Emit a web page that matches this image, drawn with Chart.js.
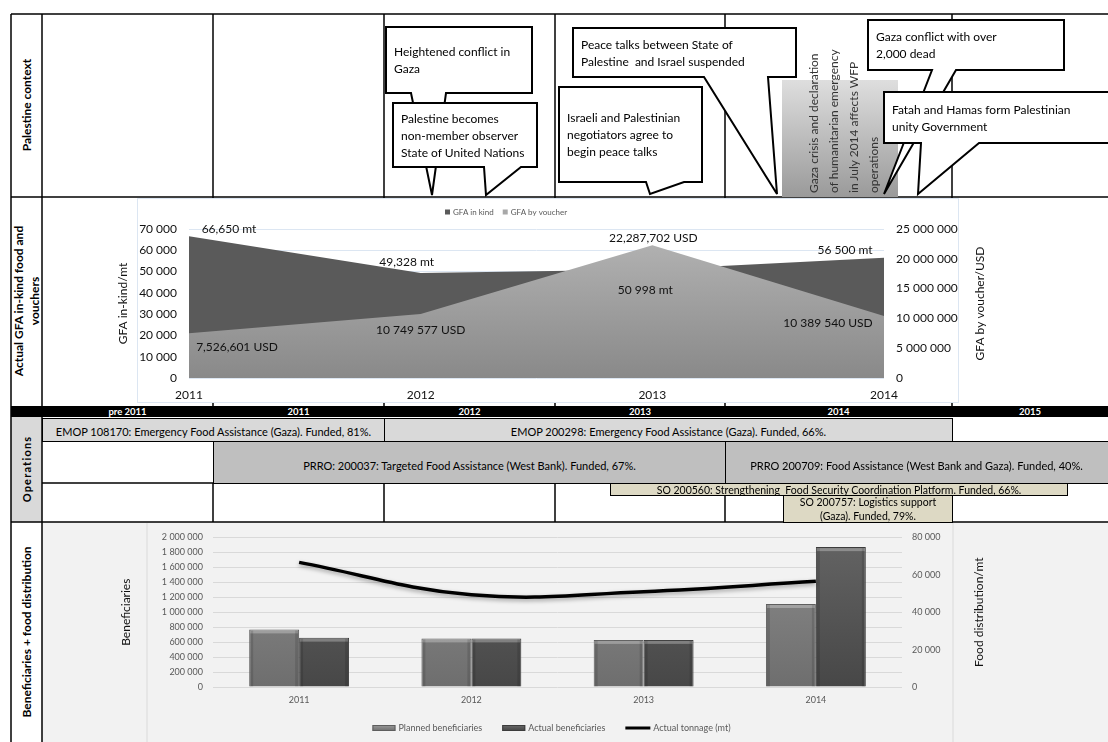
<!DOCTYPE html>
<html>
<head>
<meta charset="utf-8">
<title>WFP Palestine 2011-2014</title>
<script src="https://cdn.jsdelivr.net/npm/chart.js@4.4.1/dist/chart.umd.min.js"></script>
<style>
  body { margin: 0; background: #fff; font-family: Lato, "Noto Sans", sans-serif; }
  #page { position: relative; width: 1108px; height: 742px; overflow: hidden; }
  #page > * { position: absolute; }
  .op { box-sizing: border-box; border: 1px solid #000; font-size: 11px; line-height: 12px; display: flex; justify-content: center; text-align: center; white-space: pre; color: #000; }
  .hdr { top: 406px; height: 11px; color: #fff; font-weight: bold; font-size: 9.5px; line-height: 11px; text-align: center; }
  .side { font-weight: bold; font-size: 12px; line-height: 16px; white-space: nowrap; text-align: center; transform: translate(-50%, -50%) rotate(-90deg); }
  #notes text { font-size: 12px; white-space: pre; }
</style>
</head>
<body>
<div id="page">
  <svg id="grid" width="1108" height="742" style="left:0;top:0">
    <rect x="42" y="522" width="1066" height="220" fill="#f2f2f2"/>
    <rect x="11" y="417" width="31" height="105" fill="#d9d9d9"/>
    <line x1="147" y1="523" x2="147" y2="742" stroke="#dadada" stroke-width="1"/>
    <line x1="953" y1="523" x2="953" y2="742" stroke="#dadada" stroke-width="1"/>
    <g id="rules" stroke="#000" stroke-width="1.5"></g>
    <rect x="11" y="406" width="1097" height="11" fill="#000"/>
  </svg>

  <div style="left:137px;top:198px;width:822px;height:205px;background:#fff;border:1.5px solid #dce6f2;box-sizing:border-box"></div>
  <canvas id="gfaChart" width="910" height="207" style="left:100px;top:197px"></canvas>
  <canvas id="beneChart" width="902" height="220" style="left:100px;top:522px"></canvas>

  <div class="hdr" style="left:42px;width:171px">pre 2011</div>
  <div class="hdr" style="left:213px;width:171px">2011</div>
  <div class="hdr" style="left:384px;width:171px">2012</div>
  <div class="hdr" style="left:555px;width:170px">2013</div>
  <div class="hdr" style="left:725px;width:227px">2014</div>
  <div class="hdr" style="left:952px;width:156px">2015</div>

  <div class="op" style="left:42px;top:418px;width:343px;height:24px;background:#d9d9d9;align-items:flex-end;padding-bottom:3px">EMOP 108170: Emergency Food Assistance (Gaza). Funded, 81%.</div>
  <div class="op" style="left:384px;top:418px;width:569px;height:24px;background:#d9d9d9;align-items:flex-end;padding-bottom:3px">EMOP 200298: Emergency Food Assistance (Gaza). Funded, 66%.</div>
  <div class="op" style="left:213px;top:441px;width:513px;height:43px;background:#bfbfbf;align-items:center;padding-top:6px">PRRO: 200037: Targeted Food Assistance (West Bank). Funded, 67%.</div>
  <div class="op" style="left:725px;top:441px;width:390px;height:43px;background:#bfbfbf;align-items:center;padding-top:6px;padding-right:7px">PRRO 200709: Food Assistance (West Bank and Gaza). Funded, 40%.</div>
  <div class="op" style="left:610px;top:483px;width:458px;height:13px;background:#ddd9c4;align-items:center;font-size:10.5px">SO 200560: Strengthening  Food Security Coordination Platform. Funded, 66%.</div>
  <div class="op" style="left:783px;top:495px;width:170px;height:28px;background:#ddd9c4;align-items:center;font-size:10.5px;line-height:14px">SO 200757: Logistics support
(Gaza). Funded, 79%.</div>

  <div class="side" style="left:27px;top:105px">Palestine context</div>
  <div class="side" style="left:27px;top:301px">Actual GFA in-kind food and<br>vouchers</div>
  <div class="side" style="left:27px;top:469px;font-size:11px;letter-spacing:1.2px">Operations</div>
  <div class="side" style="left:27px;top:632px">Beneficiaries + food distribution</div>

  <svg id="notes" width="1108" height="200" style="left:0;top:0"></svg>
</div>

<script>
// ---- data ----
const years = ['2011', '2012', '2013', '2014'];
const gfaInKind = [66650, 49328, 50998, 56500];               // mt
const gfaVoucher = [7526601, 10749577, 22287702, 10389540];   // USD
const gfaInKindText = ['66,650 mt', '49,328 mt', '50 998 mt', '56 500 mt'];
const gfaVoucherText = ['7,526,601 USD', '10 749 577 USD', '22,287,702 USD', '10 389 540 USD'];
const plannedBeneficiaries = [770000, 650000, 630000, 1110000];
const actualBeneficiaries = [660000, 650000, 630000, 1870000];
const actualTonnage = [66650, 49328, 50998, 56500];           // mt

// ---- table rules ----
const rules = [
  [11, 14, 1108, 14], [11, 197, 1108, 197], [42, 483, 1108, 483], [11, 522, 1108, 522],
  [11, 14, 11, 742], [42, 14, 42, 742]
];
[213, 384, 555, 725, 952].forEach(x => {
  rules.push([x, 14, x, 406]);
  rules.push([x, 483, x, 522]);
});
document.getElementById('rules').innerHTML = rules
  .map(r => `<line x1="${r[0]}" y1="${r[1]}" x2="${r[2]}" y2="${r[3]}"/>`).join('');

// ---- context callouts ----
function bubble(box, tail, lines) {
  const [x1, y1, x2, y2] = box;
  const [b1, b2, tx, ty] = tail;
  const cy = (y1 + y2) / 2;
  let s = `<path d="M${x1} ${y1}H${x2}V${y2}H${b2}L${tx} ${ty}L${b1} ${y2}H${x1}Z" fill="#fff" stroke="#000" stroke-width="2" stroke-linejoin="miter"/>`;
  lines.forEach((t, i) => {
    s += `<text x="${x1 + 8}" y="${cy + (i - (lines.length - 1) / 2) * 17}" dominant-baseline="central">${t}</text>`;
  });
  return s;
}

let notes = '<defs><linearGradient id="crisis" x1="0" y1="0" x2="0" y2="1">' +
  '<stop offset="0" stop-color="#dedede"/><stop offset="1" stop-color="#9a9a9a"/></linearGradient></defs>';
notes += bubble([386, 27, 532, 93], [411, 446, 432, 195], ['Heightened conflict in', 'Gaza']);
notes += bubble([393, 103, 537, 167], [484, 521, 486, 195], ['Palestine becomes', 'non-member observer', 'State of United Nations']);
notes += bubble([559, 87, 702, 182], [646, 684, 650, 194], ['Israeli and Palestinian', 'negotiators agree to', 'begin peace talks']);
notes += bubble([573, 28, 796, 77], [704, 768, 777, 194], ['Peace talks between State of', 'Palestine  and Israel suspended']);
notes += '<rect x="782" y="80" width="116" height="117" fill="url(#crisis)"/>';
['Gaza crisis and declaration', 'of humanitarian emergency', 'in July 2014 affects WFP', 'operations']
  .forEach((t, i) => {
    notes += `<text transform="translate(${813 + i * 20},193) rotate(-90)" dominant-baseline="central" fill="#333">${t}</text>`;
  });
notes += bubble([868, 20, 1064, 70], [932, 956, 884, 194], ['Gaza conflict with over', '2,000 dead']);
notes += bubble([884, 92, 1116, 143], [921, 979, 918, 194], ['Fatah and Hamas form Palestinian', 'unity Government']);
document.getElementById('notes').innerHTML = notes;

// ---- charts ----
Chart.defaults.font.family = 'Lato, "Noto Sans", sans-serif';
const spaced = v => String(v).replace(/\B(?=(\d{3})+(?!\d))/g, ' ');

function verticalFill(top, bottom) {
  return (ctx) => {
    const area = ctx.chart.chartArea;
    if (!area) return bottom;
    const g = ctx.chart.ctx.createLinearGradient(0, area.top, 0, area.bottom);
    g.addColorStop(0, top);
    g.addColorStop(1, bottom);
    return g;
  };
}

// value labels next to the area points
const areaLabels = {
  id: 'areaLabels',
  afterDatasetsDraw(chart, args, opts) {
    const ctx = chart.ctx;
    ctx.save();
    ctx.font = '12px Lato, "Noto Sans", sans-serif';
    ctx.fillStyle = '#111';
    ctx.textAlign = 'center';
    ctx.textBaseline = 'middle';
    opts.sets.forEach(set => {
      const meta = chart.getDatasetMeta(set.index);
      meta.data.forEach((pt, j) => {
        ctx.fillText(set.text[j], pt.x + set.offsets[j][0], pt.y + set.offsets[j][1]);
      });
    });
    ctx.restore();
  }
};

// right-hand axis titles read bottom-to-top, like the left ones
const sideTitle = {
  id: 'sideTitle',
  afterDraw(chart, args, opts) {
    const scale = chart.scales[opts.scale];
    const ctx = chart.ctx;
    ctx.save();
    ctx.translate(scale.right - opts.inset, (scale.top + scale.bottom) / 2);
    ctx.rotate(-Math.PI / 2);
    ctx.font = '12px Lato, "Noto Sans", sans-serif';
    ctx.fillStyle = '#111';
    ctx.textAlign = 'center';
    ctx.textBaseline = 'middle';
    ctx.fillText(opts.text, 0, 0);
    ctx.restore();
  }
};

// small legends
const boxLegend = {
  id: 'boxLegend',
  afterDraw(chart, args, opts) {
    const ctx = chart.ctx;
    const area = chart.chartArea;
    ctx.save();
    ctx.font = opts.font;
    ctx.textBaseline = 'middle';
    let total = 0;
    opts.items.forEach(it => { total += it.w + 3 + ctx.measureText(chart.data.datasets[it.index].label).width; });
    total += opts.gap * (opts.items.length - 1);
    let x = opts.x != null ? area.left + opts.x : (area.left + area.right) / 2 - total / 2 + (opts.shift || 0);
    const y = opts.y;
    opts.items.forEach(it => {
      if (it.line) {
        ctx.fillStyle = it.color;
        ctx.fillRect(x, y - 1.5, it.w, 3);
      } else {
        const g = ctx.createLinearGradient(0, y - it.h / 2, 0, y + it.h / 2);
        g.addColorStop(0, it.color);
        g.addColorStop(1, it.color2 || it.color);
        ctx.fillStyle = g;
        ctx.fillRect(x, y - it.h / 2, it.w, it.h);
        if (it.border) {
          ctx.strokeStyle = it.border;
          ctx.lineWidth = 1;
          ctx.strokeRect(x + 0.5, y - it.h / 2 + 0.5, it.w - 1, it.h - 1);
        }
      }
      x += it.w + 3;
      const label = chart.data.datasets[it.index].label;
      ctx.fillStyle = opts.color;
      ctx.fillText(label, x, y);
      x += ctx.measureText(label).width + opts.gap;
    });
    ctx.restore();
  }
};

new Chart(document.getElementById('gfaChart'), {
  type: 'line',
  data: {
    labels: years,
    datasets: [
      {
        label: 'GFA in kind', data: gfaInKind, yAxisID: 'y', order: 2,
        fill: 'origin', backgroundColor: '#5a5a5a', borderColor: 'rgba(0,0,0,0)', borderWidth: 0,
        pointRadius: 0, tension: 0
      },
      {
        label: 'GFA by voucher', data: gfaVoucher, yAxisID: 'y1', order: 1,
        fill: 'origin', backgroundColor: verticalFill('#b5b5b5', '#898989'), borderColor: 'rgba(0,0,0,0)', borderWidth: 0,
        pointRadius: 0, tension: 0
      }
    ]
  },
  options: {
    responsive: false,
    animation: false,
    events: [],
    layout: { padding: { top: 32 } },
    plugins: {
      legend: { display: false },
      tooltip: { enabled: false },
      areaLabels: {
        sets: [
          { index: 0, text: gfaInKindText, offsets: [[40, -7], [-14, -11], [-7, 21], [-39, -8]] },
          { index: 1, text: gfaVoucherText, offsets: [[48, 14], [0, 16], [1, -7], [-56, 7]] }
        ]
      },
      sideTitle: { scale: 'y1', text: 'GFA by voucher/USD', inset: 30 },
      boxLegend: {
        font: '8px Lato, "Noto Sans", sans-serif', color: '#595959', gap: 9, x: 256, y: 15,
        items: [
          { index: 0, w: 5, h: 5, color: '#5a5a5a' },
          { index: 1, w: 5, h: 5, color: '#a8a8a8' }
        ]
      }
    },
    scales: {
      x: {
        offset: false,
        grid: { display: false, drawTicks: false },
        border: { display: false },
        ticks: { padding: 10, color: '#111', font: { size: 12 } },
        afterFit: s => { s.height = 26; }
      },
      y: {
        position: 'left', min: 0, max: 70000,
        ticks: { stepSize: 10000, padding: 12, color: '#111', font: { size: 12 }, callback: spaced },
        grid: { color: '#dce6f2', drawTicks: false },
        border: { display: false },
        title: { display: true, text: 'GFA in-kind/mt', color: '#111', font: { size: 12 }, padding: { top: 16, bottom: 0 } },
        afterFit: s => { s.width = 89; }
      },
      y1: {
        position: 'right', min: 0, max: 25000000,
        ticks: { stepSize: 5000000, padding: 12, color: '#111', font: { size: 12 }, callback: spaced },
        grid: { display: false, drawTicks: false },
        border: { display: false },
        afterFit: s => { s.width = 126; }
      }
    }
  },
  plugins: [areaLabels, boxLegend, sideTitle]
});

// bevel on the bars and a soft shadow under the tonnage line
const barStyle = {
  id: 'barStyle',
  beforeDatasetDraw(chart, args) {
    if (args.meta.type === 'line') {
      const ctx = chart.ctx;
      ctx.save();
      ctx.shadowColor = 'rgba(0,0,0,0.35)';
      ctx.shadowBlur = 4;
      ctx.shadowOffsetY = 2;
    }
  },
  afterDatasetDraw(chart, args) {
    const ctx = chart.ctx;
    if (args.meta.type === 'line') {
      ctx.restore();
      return;
    }
    ctx.save();
    args.meta.data.forEach(bar => {
      const { x, y, width } = bar.getProps(['x', 'y', 'width'], true);
      ctx.fillStyle = 'rgba(255,255,255,0.28)';
      ctx.fillRect(x - width / 2 + 1, y + 1, width - 2, 3);
      ctx.fillStyle = 'rgba(0,0,0,0.12)';
      ctx.fillRect(x - width / 2 + 1, y + 1, 3, bar.base - y - 1);
      ctx.fillRect(x + width / 2 - 4, y + 1, 3, bar.base - y - 1);
    });
    ctx.restore();
  }
};

new Chart(document.getElementById('beneChart'), {
  data: {
    labels: years,
    datasets: [
      {
        type: 'line', label: 'Actual tonnage (mt)', data: actualTonnage, yAxisID: 'y1', order: 0,
        borderColor: '#000', backgroundColor: '#000', borderWidth: 3.5, pointRadius: 0, tension: 0.4, fill: false
      },
      {
        type: 'bar', label: 'Planned beneficiaries', data: plannedBeneficiaries, yAxisID: 'y', order: 1,
        backgroundColor: verticalFill('#8c8c8c', '#6e6e6e'), borderColor: '#5e5e5e', borderWidth: 1,
        categoryPercentage: 0.58, barPercentage: 1
      },
      {
        type: 'bar', label: 'Actual beneficiaries', data: actualBeneficiaries, yAxisID: 'y', order: 2,
        backgroundColor: verticalFill('#646464', '#474747'), borderColor: '#3c3c3c', borderWidth: 1,
        categoryPercentage: 0.58, barPercentage: 1
      }
    ]
  },
  options: {
    responsive: false,
    animation: false,
    events: [],
    layout: { padding: { top: 14 } },
    plugins: {
      legend: { display: false },
      tooltip: { enabled: false },
      sideTitle: { scale: 'y1', text: 'Food distribution/mt', inset: 23 },
      boxLegend: {
        font: '9px Lato, "Noto Sans", sans-serif', color: '#595959', gap: 20, y: 206, shift: -6,
        items: [
          { index: 1, w: 23, h: 6, color: '#9a9a9a', color2: '#6e6e6e', border: '#5e5e5e' },
          { index: 2, w: 23, h: 6, color: '#6a6a6a', color2: '#444', border: '#3c3c3c' },
          { index: 0, w: 25, line: true, color: '#000' }
        ]
      }
    },
    scales: {
      x: {
        grid: { display: false, drawTicks: false },
        border: { display: false },
        ticks: { padding: 8, color: '#595959', font: { size: 9 } },
        afterFit: s => { s.height = 55; }
      },
      y: {
        position: 'left', min: 0, max: 2000000,
        ticks: { stepSize: 200000, padding: 10, color: '#595959', font: { size: 9 }, callback: spaced },
        grid: { color: '#d9d9d9', drawTicks: false },
        border: { display: false },
        title: { display: true, text: 'Beneficiaries', color: '#111', font: { size: 12 }, padding: { top: 19, bottom: 0 } },
        afterFit: s => { s.width = 113; }
      },
      y1: {
        position: 'right', min: 0, max: 80000,
        ticks: { stepSize: 20000, padding: 10, color: '#595959', font: { size: 9 }, callback: spaced },
        grid: { display: false, drawTicks: false },
        border: { display: false },
        afterFit: s => { s.width = 100; }
      }
    }
  },
  plugins: [barStyle, boxLegend, sideTitle]
});
</script>
</body>
</html>
